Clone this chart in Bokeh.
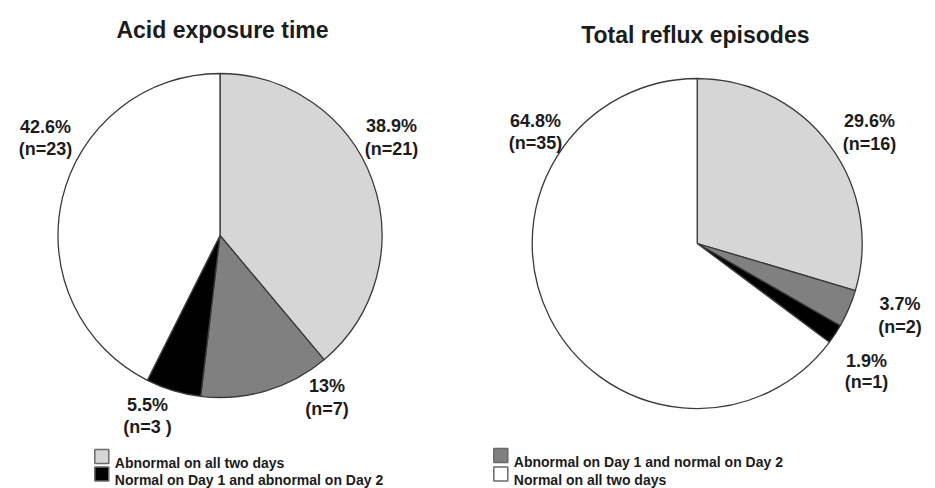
import math

from bokeh.core.properties import value
from bokeh.embed import file_html
from bokeh.models import ColumnDataSource, Range1d
from bokeh.plotting import figure
from bokeh.resources import INLINE

# --- data -------------------------------------------------------------
categories = [
    "Abnormal on all two days",
    "Abnormal on Day 1 and normal on Day 2",
    "Normal on Day 1 and abnormal on Day 2",
    "Normal on all two days",
]
acid_pct = [38.9, 13.0, 5.5, 42.6]
acid_n = ["21", "7", "3 ", "23"]
reflux_pct = [29.6, 3.7, 1.9, 64.8]
reflux_n = ["16", "2", "1", "35"]

titles = ["Acid exposure time", "Total reflux  episodes"]

# --- styling ----------------------------------------------------------
W, H = 935, 488
colors = ["#d6d6d6", "#808080", "#000000", "#ffffff"]
edge = "#3a3a3a"
ink = "#1c1c1c"
FONT = value("Liberation Sans")

p = figure(width=W, height=H, output_backend="svg", toolbar_location=None,
           x_range=Range1d(0, W), y_range=Range1d(H, 0), min_border=0,
           background_fill_color="white", border_fill_color="white")
p.axis.visible = False
p.grid.visible = False
p.outline_line_color = None


def draw_pie(cx, cy, r, pct, ns, label_pos, title, title_pos):
    total = sum(pct)
    cum = [0.0]
    for v in pct:
        cum.append(cum[-1] + v / total)
    src = ColumnDataSource(dict(
        start=[math.pi / 2 - 2 * math.pi * c for c in cum[:-1]],
        end=[math.pi / 2 - 2 * math.pi * c for c in cum[1:]],
        color=colors,
    ))
    p.wedge(x=cx, y=cy, radius=r, start_angle="start", end_angle="end",
            direction="clock", fill_color="color", line_color=edge,
            line_width=1.3, source=src)

    xs = [lp[0] for lp in label_pos]
    y1 = [lp[1] for lp in label_pos]
    y2 = [lp[2] for lp in label_pos]
    p.text(x=xs, y=y1, text=[f"{v:g}%" for v in pct], text_font=FONT,
           text_font_style="bold", text_font_size="18px", text_color=ink,
           text_align="center", text_baseline="alphabetic")
    p.text(x=xs, y=y2, text=[f"(n={n})" for n in ns], text_font=FONT,
           text_font_style="bold", text_font_size="18px", text_color=ink,
           text_align="center", text_baseline="alphabetic")
    p.text(x=[title_pos[0]], y=[title_pos[1]], text=[title], text_font=FONT,
           text_font_style="bold", text_font_size="23px", text_color=ink,
           text_align="center", text_baseline="alphabetic")


draw_pie(219.5, 235, 162, acid_pct, acid_n,
         [(391, 125.5, 148), (326.5, 385, 408), (147, 404, 426.5), (45, 126, 148)],
         titles[0], (222, 29))
draw_pie(696.7, 243, 165, reflux_pct, reflux_n,
         [(869, 120.5, 143), (899.5, 303, 326), (866, 360, 381), (535, 120, 142)],
         titles[1], (698, 34.5))


def draw_legend(x0, ys, idx):
    p.rect(x=[x0] * len(idx), y=ys, width=14, height=14,
           fill_color=[colors[i] for i in idx], line_color="#6a6a6a",
           line_width=1.5)
    p.text(x=[x0 + 13] * len(idx), y=[y + 6 for y in ys],
           text=[categories[i] for i in idx], text_font=FONT,
           text_font_style="bold", text_font_size="14px", text_color=ink,
           text_align="left", text_baseline="alphabetic")


draw_legend(101.3, [456, 473.5], [0, 2])
draw_legend(500.3, [455, 473.5], [1, 3])

open("out.html", "w").write(file_html(p, INLINE))
